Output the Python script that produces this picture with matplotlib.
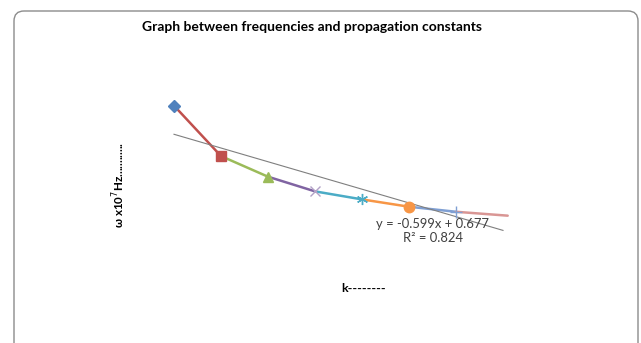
import matplotlib
matplotlib.use("Agg")
import matplotlib.pyplot as plt
from matplotlib.patches import FancyBboxPatch
from matplotlib.transforms import IdentityTransform
import numpy as np

# ---- data ----
k_values = [0.10, 0.20, 0.30, 0.40, 0.50, 0.60, 0.70, 0.81]
omega_values = [0.742, 0.522, 0.432, 0.368, 0.333, 0.301, 0.279, 0.262]
trend_slope = -0.599
trend_intercept = 0.677
r_squared = 0.824
title_text = "Graph between frequencies and propagation constants"
xlabel_text = "k--------"
ylabel_text = r"ω x10$^{7}$Hz............"

seg_colors = ["#C0504D", "#9BBB59", "#8064A2", "#4BACC6", "#F79646", "#7F9FD3", "#D99694"]
markers = ["D", "s", "^", "x", (6, 2, 0), "o", "+", None]
marker_colors = ["#4F81BD", "#C0504D", "#9BBB59", "#B3A2C7", "#4BACC6", "#F79646", "#7F9FD3", "#D99694"]
marker_sizes = [6, 7.5, 7, 7, 8, 7.5, 9, 0]

W, H = 641, 343
fig = plt.figure(figsize=(W / 100, H / 100), dpi=100)
fig.patch.set_facecolor("white")

# rounded chart frame (pixel coordinates, origin bottom-left)
frame = FancyBboxPatch((14, -30), 624, 362, boxstyle="round,pad=0,rounding_size=10",
                       transform=IdentityTransform(), facecolor="none",
                       edgecolor="#8C8C8C", linewidth=1.0, zorder=-1)
fig.patches.append(frame)

ax = fig.add_axes([150.5 / W, 1 - 252.8 / H, 376 / W, 160.44 / H])
ax.set_xlim(0.05, 0.85)
ax.set_ylim(0.1, 0.8)
ax.axis("off")

# trendline
tx = np.array([min(k_values), max(k_values) - 0.01])
ax.plot(tx, trend_slope * tx + trend_intercept, color="#7F7F7F", lw=0.8, zorder=3)

# coloured segments
for i in range(len(k_values) - 1):
    ax.plot(k_values[i:i + 2], omega_values[i:i + 2], color=seg_colors[i], lw=1.8,
            solid_capstyle="round", zorder=2)

# markers
for i, (kv, ov) in enumerate(zip(k_values, omega_values)):
    m = markers[i]
    if m is None:
        continue
    if m in ("x", "+") or isinstance(m, tuple):
        ax.plot([kv], [ov], marker=m, color=marker_colors[i], ms=marker_sizes[i],
                mew=1.0, ls="none", zorder=4)
    else:
        ax.plot([kv], [ov], marker=m, color=marker_colors[i], ms=marker_sizes[i],
                mec=marker_colors[i], ls="none", zorder=4)

fam = ["Lato", "DejaVu Sans"]
fig.text(312 / W, 1 - 27 / H, title_text, ha="center", va="center", fontsize=10,
         fontweight="bold", family=fam)
fig.text(119 / W, 1 - 185 / H, ylabel_text, ha="center", va="center", rotation=90,
         fontsize=8.4, fontweight="bold", family=fam)
fig.text(364 / W, 1 - 289 / H, xlabel_text, ha="center", va="center", fontsize=8.9,
         fontweight="bold", family=fam)
fig.text(432 / W, 1 - 224 / H, f"y = {trend_slope}x + {trend_intercept}", ha="center",
         va="center", fontsize=9.4, color="#404040", family=fam)
fig.text(433 / W, 1 - 238 / H, f"R² = {r_squared}", ha="center", va="center",
         fontsize=9.4, color="#404040", family=fam)

fig.savefig("out.png", dpi=100, facecolor="white")
